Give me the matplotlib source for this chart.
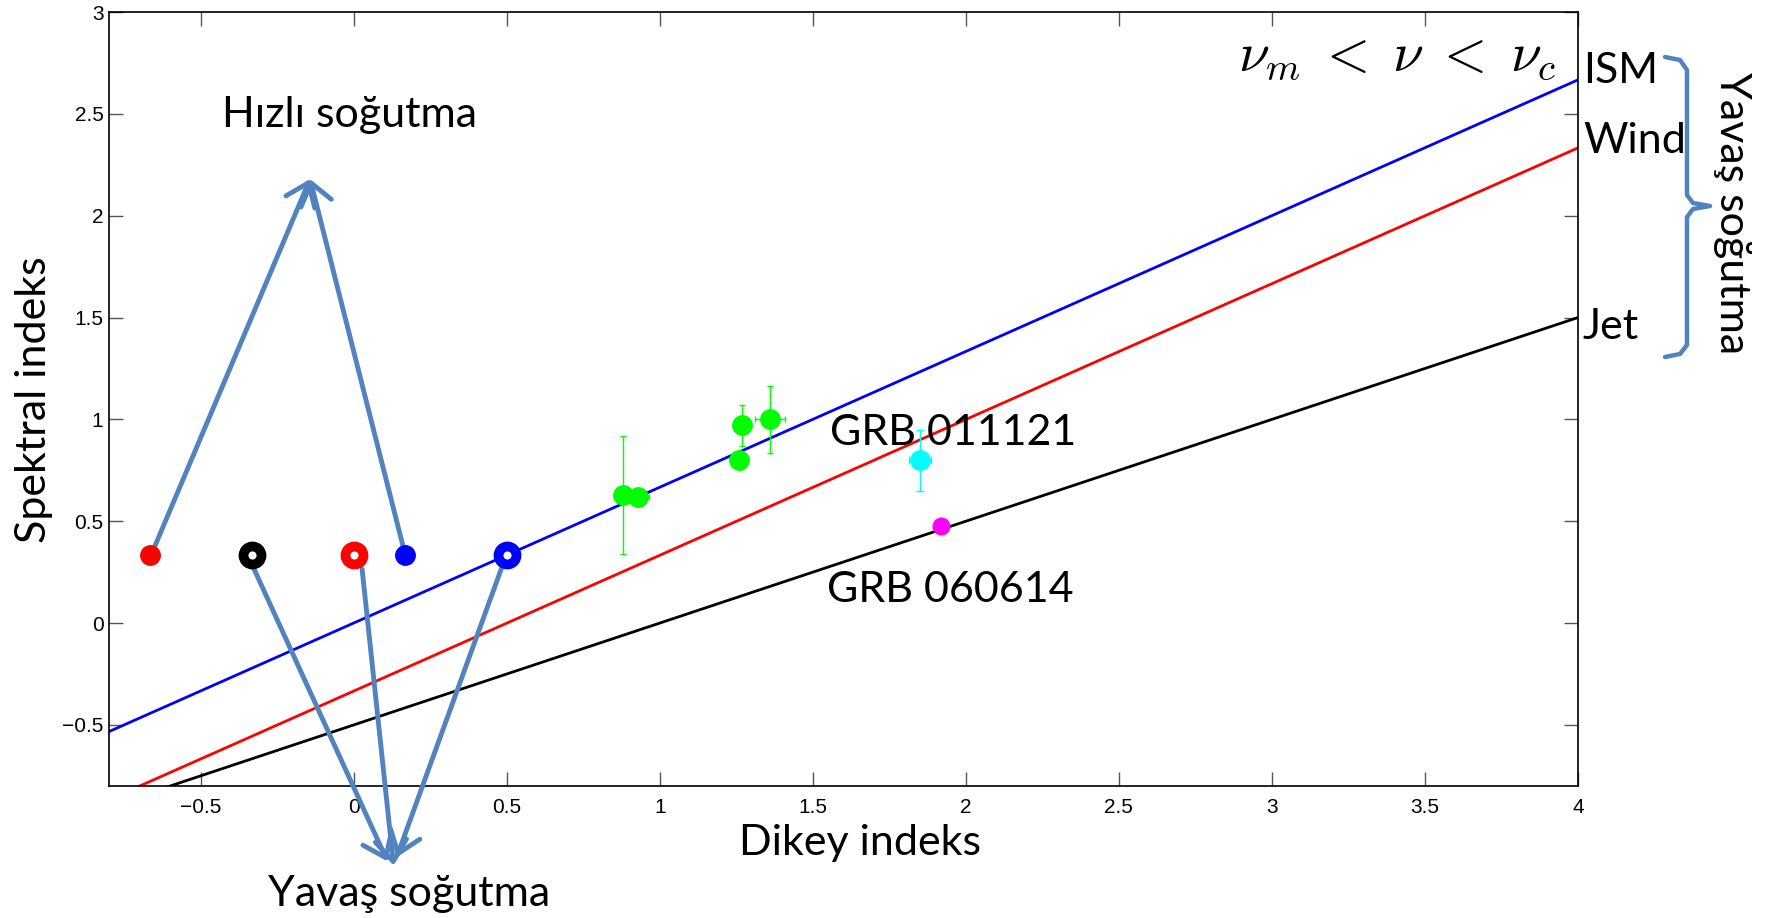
import matplotlib
matplotlib.use("Agg")
import matplotlib.pyplot as plt
from matplotlib.lines import Line2D

plt.rcParams['mathtext.fontset'] = 'cm'
plt.rcParams['xtick.labelsize'] = 15
plt.rcParams['ytick.labelsize'] = 15
plt.rcParams['font.family'] = ['Liberation Sans', 'DejaVu Sans']

# model lines (end points)
line_x = [-0.8, 4.0]
ism_y = [-0.533, 2.667]
wind_y = [-0.867, 2.333]
jet_y = [-0.9, 1.5]

# nu < nu_m points, beta = 1/3
fast_x = [-0.667, 0.167]
fast_c = ['#FF0000', '#0000FF']
slow_x = [-0.333, 0.0, 0.5]
slow_c = ['#000000', '#FF0000', '#0000FF']
low_beta = 0.333

# GRB 011121
g_x = [0.88, 0.93, 1.27, 1.26, 1.36]
g_y = [0.63, 0.62, 0.97, 0.80, 1.00]
g_xerr = [0.0, 0.035, 0.0, 0.0, 0.05]
g_yerr = [0.29, 0.0, 0.10, 0.0, 0.165]

c_x, c_y, c_xerr, c_yerr = [1.85], [0.80], [0.036], [0.15]
m_x, m_y = [1.92], [0.475]

xticks = [-0.5, 0, 0.5, 1, 1.5, 2, 2.5, 3, 3.5, 4]
yticks = [-0.5, 0, 0.5, 1, 1.5, 2, 2.5, 3]

arrow_c = '#5283BE'
txt_font = ['Lato', 'DejaVu Sans']
fs = 31

fig = plt.figure(figsize=(17.75, 9.18), dpi=100)
ax = fig.add_axes([0.0614, 0.1438, 0.8276, 0.8431])

ax.plot(line_x, ism_y, color='#0000FF', lw=2)
ax.plot(line_x, wind_y, color='#FF0000', lw=2)
ax.plot(line_x, jet_y, color='#000000', lw=2)

ax.errorbar(g_x, g_y, xerr=g_xerr, yerr=g_yerr, fmt='o', color='#00FF00',
            ms=14, elinewidth=1, capsize=2.5, zorder=3)
ax.errorbar(c_x, c_y, xerr=c_xerr, yerr=c_yerr, fmt='o', color='#00FFFF',
            ms=14, elinewidth=1, capsize=3, zorder=3)
ax.plot(m_x, m_y, 'o', color='#FF00FF', ms=12, zorder=3)

for x, c in zip(fast_x, fast_c):
    ax.plot([x], [low_beta], 'o', color=c, ms=14, zorder=4)
for x, c in zip(slow_x, slow_c):
    ax.plot([x], [low_beta], 'o', mfc='white', mec=c, ms=13, mew=7, zorder=4)

ax.set_xlim(-0.8, 4)
ax.set_ylim(-0.8, 3)
ax.set_xticks(xticks)
ax.set_xticklabels([f'{v:g}'.replace('-', '\u2212') for v in xticks])
ax.set_yticks(yticks)
ax.set_yticklabels([f'{v:g}'.replace('-', '\u2212') for v in yticks])
ax.tick_params(direction='in', length=10, width=1, color='#555555',
               top=True, right=True)
ax.tick_params(axis='x', pad=9)
ax.tick_params(axis='y', pad=4)
for sp in ax.spines.values():
    sp.set_linewidth(1.2)

# arrows
aprops = dict(arrowstyle='->,head_length=0.6,head_width=0.45', color=arrow_c,
              lw=3.5, shrinkA=0, shrinkB=0, mutation_scale=25)
tip_up = (-0.143, 2.18)
for tail in [(-0.655, 0.36), (0.162, 0.37)]:
    ax.annotate('', xy=tip_up, xytext=tail, arrowprops=aprops, annotation_clip=False)
tails_dn = [(-0.329, 0.275), (0.027, 0.265), (0.484, 0.275)]
tips_dn = [(0.11, -1.17), (0.13, -1.19), (0.14, -1.15)]
for tail, tip in zip(tails_dn, tips_dn):
    ax.annotate('', xy=tip, xytext=tail, arrowprops=aprops, annotation_clip=False)

ax.text(-0.014, 2.495, 'Hızlı soğutma', ha='center', va='center', fontsize=fs, family=txt_font)
ax.text(1.958, 0.931, 'GRB 011121', ha='center', va='center', fontsize=fs, family=txt_font)
ax.text(1.948, 0.162, 'GRB 060614', ha='center', va='center', fontsize=fs, family=txt_font)
ax.text(4.016, 2.71, 'ISM', ha='left', va='center', fontsize=fs, family=txt_font, clip_on=False)
ax.text(4.016, 2.368, 'Wind', ha='left', va='center', fontsize=fs, family=txt_font, clip_on=False)
ax.text(4.016, 1.456, 'Jet', ha='left', va='center', fontsize=fs, family=txt_font, clip_on=False)
ax.text(3.93, 2.78, r'$\nu_m\; <\; \nu\; <\; \nu_c$', ha='right', va='center', fontsize=40)

fig.text(0.4845, 0.0817, 'Dikey indeks', ha='center', va='center', fontsize=fs, family=txt_font)
fig.text(0.2304, 0.026, 'Yavaş soğutma', ha='center', va='center', fontsize=fs, family=txt_font)
fig.text(0.019, 0.565, 'Spektral indeks', ha='center', va='center', fontsize=fs,
         rotation=90, family=txt_font)
fig.text(0.976, 0.768, 'Yavaş soğutma', ha='center', va='center', fontsize=fs,
         rotation=-90, family=txt_font)

# curly brace on the right, figure pixels
bx = [1665, 1680, 1687, 1687, 1693, 1710, 1693, 1687, 1687, 1680, 1665]
by = [57, 60, 70, 195, 203, 206, 209, 217, 345, 354, 357]
fig.add_artist(Line2D([v / 1775 for v in bx], [1 - v / 918 for v in by],
                      transform=fig.transFigure, color=arrow_c, lw=3.2,
                      solid_joinstyle='round', solid_capstyle='round'))

fig.savefig('out.png', dpi=100)
